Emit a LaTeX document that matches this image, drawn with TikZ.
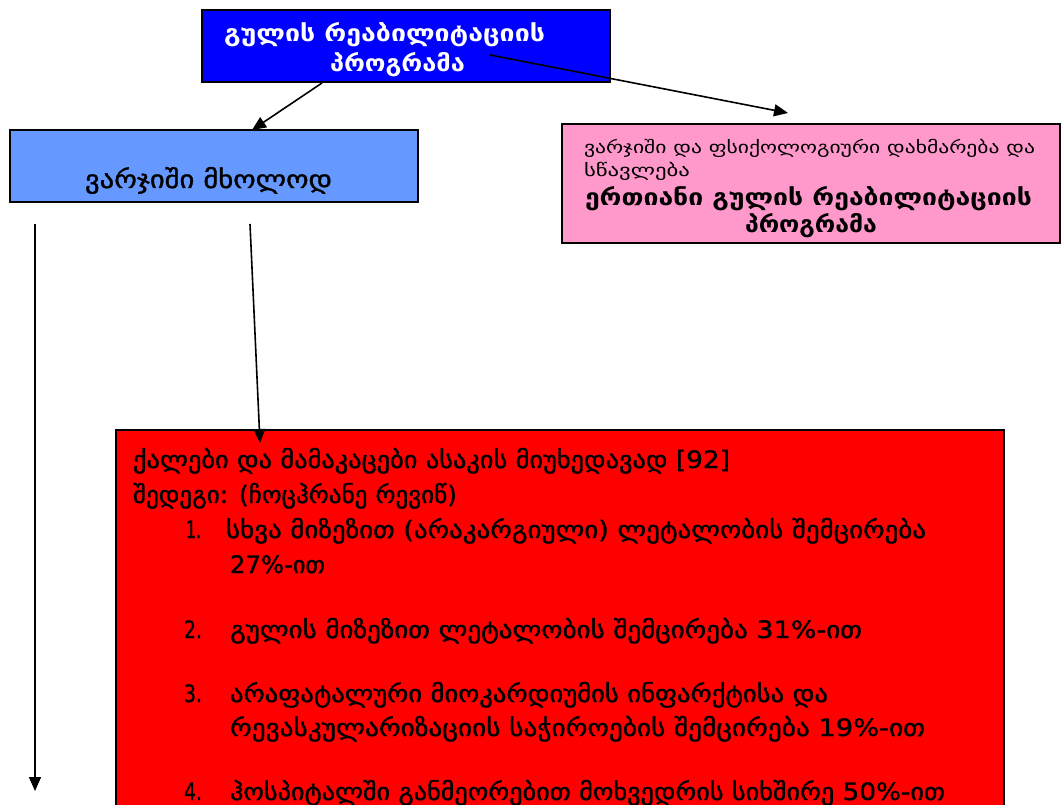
\documentclass[tikz,border=0pt]{standalone}
\usepackage{fontspec}
\usepackage{graphicx}
\setmainfont{DejaVu Sans}
\newfontfamily\heavy{DejaVu Sans}[FakeBold=1.2]
\usetikzlibrary{arrows.meta}
\newcommand{\fitw}[2]{\resizebox{#1}{\height}{#2}}
\definecolor{boxblue}{RGB}{0,0,255}
\definecolor{lightblue}{RGB}{102,153,255}
\definecolor{pinkfill}{RGB}{255,153,204}
\definecolor{redfill}{RGB}{255,0,0}
\begin{document}
\begin{tikzpicture}[x=1pt,y=-1pt,
  box/.style={draw=black, line width=1.6pt, anchor=north west, inner sep=0pt, outer sep=0pt},
  txt/.style={anchor=base west, inner sep=0pt, outer sep=0pt},
  redtxt/.style={txt, font=\heavy\fontsize{24}{24}\selectfont},
  conn/.style={draw=black, line width=1.6pt, -{Triangle[length=14pt,width=12pt]}},
]
\clip (0,0) rectangle (1061,805);
\fill[white] (0,0) rectangle (1061,805);

% boxes
\node[box, fill=boxblue, minimum width=408pt, minimum height=72pt] (prog) at (202,10) {};
\node[box, fill=lightblue, minimum width=408pt, minimum height=72pt] (only) at (10,130) {};
\node[box, fill=pinkfill, minimum width=498pt, minimum height=119pt] (comb) at (562,124) {};
\node[box, fill=redfill, minimum width=888pt, minimum height=400pt] (res) at (116,430) {};

% top box text
\node[txt, text=white, font=\fontsize{23}{23}\selectfont\bfseries] (progA) at (224,42) {\fitw{321pt}{გულის რეაბილიტაციის}};
\node[txt, text=white, font=\fontsize{23}{23}\selectfont\bfseries] (progB) at (330,72) {\fitw{135pt}{პროგრამა}};

% exercise only
\node[txt, font=\heavy\fontsize{25}{25}\selectfont] (onlyT) at (85,188) {\fitw{247pt}{ვარჯიში მხოლოდ}};

% pink box text
\node[txt, font=\fontsize{17}{17}\selectfont] (combA) at (584,154) {\fitw{451pt}{ვარჯიში და ფსიქოლოგიური დახმარება და}};
\node[txt, font=\fontsize{17}{17}\selectfont] (combB) at (584,177) {\fitw{106pt}{სწავლება}};
\node[txt, font=\fontsize{23}{23}\selectfont\bfseries] (combC) at (585,206) {\fitw{447pt}{ერთიანი გულის რეაბილიტაციის}};
\node[txt, font=\fontsize{23}{23}\selectfont\bfseries] (combD) at (745,233) {\fitw{132pt}{პროგრამა}};

% red box text
\node[redtxt] (r1) at (133,468) {\fitw{597pt}{ქალები და მამაკაცები ასაკის მიუხედავად [92]}};
\node[redtxt] (r2) at (133,503) {\fitw{324pt}{შედეგი: (ჩოცჰრანე რევიწ)}};
\node[redtxt] (n1) at (186,538) {\fitw{15pt}{1.}};
\node[redtxt] (i1a) at (226,538) {\fitw{700pt}{სხვა მიზეზით (არაკარგიული) ლეტალობის შემცირება}};
\node[redtxt] (i1b) at (230,573) {\fitw{95pt}{27\%-ით}};
\node[redtxt] (n2) at (184,638) {\fitw{18pt}{2.}};
\node[redtxt] (i2) at (230,638) {\fitw{632pt}{გულის მიზეზით ლეტალობის შემცირება 31\%-ით}};
\node[redtxt] (n3) at (184,702) {\fitw{18pt}{3.}};
\node[redtxt] (i3a) at (230,702) {\fitw{598pt}{არაფატალური მიოკარდიუმის ინფარქტისა და}};
\node[redtxt] (i3b) at (230,736) {\fitw{695pt}{რევასკულარიზაციის საჭიროების შემცირება 19\%-ით}};
\node[redtxt] (n4) at (184,800) {\fitw{18pt}{4.}};
\node[redtxt] (i4) at (230,800) {\fitw{715pt}{ჰოსპიტალში განმეორებით მოხვედრის სიხშირე 50\%-ით}};

% connector end points
\coordinate (a1s) at (322,83);
\coordinate (a1e) at (252,130);
\coordinate (a2s) at (490,55);
\coordinate (a2e) at (788,113);
\coordinate (a3s) at (250,224);
\coordinate (a3e) at (260,443);
\coordinate (a4s) at (35,224);
\coordinate (a4e) at (35,791);

\draw[conn] (a1s) -- (a1e);
\draw[conn] (a2s) -- (a2e);
\draw[conn] (a3s) -- (a3e);
\draw[conn] (a4s) -- (a4e);
\end{tikzpicture}
\end{document}
